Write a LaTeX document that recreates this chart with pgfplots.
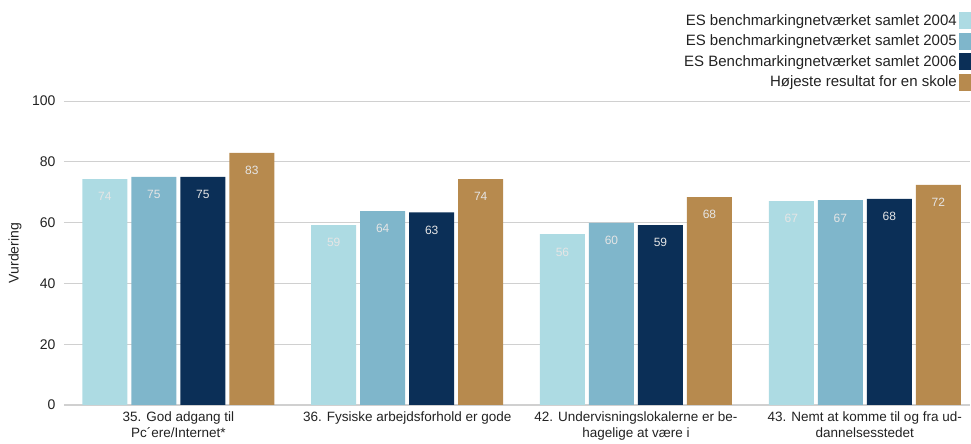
\documentclass[border=0pt]{standalone}
\usepackage{fontspec}
\setmainfont{Liberation Sans}
\usepackage{pgfplots}
\pgfplotsset{compat=1.18}
\definecolor{c04}{HTML}{ADDBE3}
\definecolor{c05}{HTML}{7FB6CB}
\definecolor{c06}{HTML}{0B2F57}
\definecolor{cmax}{HTML}{B78A4E}
\definecolor{gridc}{HTML}{D0D0D0}
\definecolor{txt}{HTML}{222222}
\begin{document}
\begin{tikzpicture}
\begin{axis}[
  scale only axis, width=906pt, height=304pt,
  xmin=-0.5, xmax=3.46, ymin=0, ymax=100,
  ybar=4pt, bar width=45pt,
  axis lines=left,
  axis line style={-},
  y axis line style={draw=none},
  x axis line style={gridc, line width=1.2pt},
  major tick length=0pt,
  ymajorgrids, grid style={gridc, line width=0.8pt},
  ytick={0,20,...,100},
  /pgf/number format/assume math mode=true,
  yticklabel style={font=\fontsize{14}{16}\selectfont, text=txt, xshift=-5pt},
  ylabel={Vurdering},
  ylabel style={at={(axis description cs:-0.054,0.5)}, anchor=center, font=\fontsize{14}{16}\selectfont, text=txt},
  xtick={0,1,2,3},
  xticklabels={{35. God adgang til\\Pc\textasciiacute ere/Internet*},{36. Fysiske arbejdsforhold er gode},{42. Undervisningslokalerne er be-\\hagelige at være i},{43. Nemt at komme til og fra ud-\\dannelsesstedet}},
  xticklabel style={align=center, font=\fontsize{13.5}{16}\selectfont, text=txt, yshift=-3pt},
  legend style={at={(1,1)}, anchor=south east, xshift=1pt, yshift=10pt, draw=none, fill=none, inner sep=0pt, row sep=3.5pt, font=\fontsize{15}{16}\selectfont, text=txt, cells={anchor=east}},
  legend plot pos=right,
  legend cell align=right,
  legend image code/.code={\fill[#1] (0pt,-8.5pt) rectangle (12pt,8.5pt);},
  nodes near coords,
  point meta=y,
  nodes near coords style={anchor=north, yshift=-10pt, font=\fontsize{12}{14}\selectfont, text=white!90!black, /pgf/number format/fixed, /pgf/number format/precision=0},
]
\addplot[fill=c04, draw=none] coordinates {(0,74.3) (1,59.2) (2,56.2) (3,67.1)};
\addplot[fill=c05, draw=none] coordinates {(0,75.0) (1,63.8) (2,59.9) (3,67.4)};
\addplot[fill=c06, draw=none] coordinates {(0,75.0) (1,63.4) (2,59.2) (3,67.8)};
\addplot[fill=cmax, draw=none] coordinates {(0,82.9) (1,74.3) (2,68.4) (3,72.4)};
\legend{ES benchmarkingnetværket samlet 2004,ES benchmarkingnetværket samlet 2005,ES Benchmarkingnetværket samlet 2006,Højeste resultat for en skole}
\end{axis}
\path[use as bounding box] (-64pt,-38pt) rectangle (907pt,405pt);
\end{tikzpicture}
\end{document}
